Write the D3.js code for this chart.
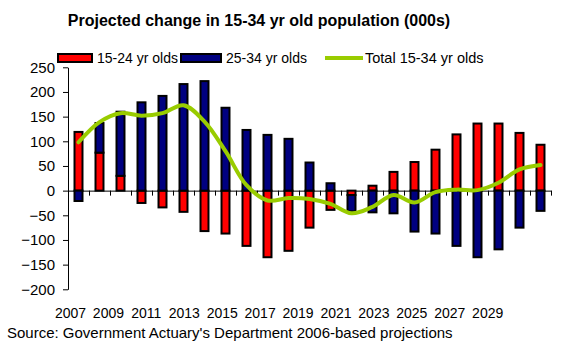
<!DOCTYPE html>
<html>
<head>
<meta charset="utf-8">
<script src="https://cdnjs.cloudflare.com/ajax/libs/d3/7.8.5/d3.min.js"></script>
<style>
  html, body { margin: 0; padding: 0; background: #fff; }
  svg { display: block; font-family: "Liberation Sans", Arial, sans-serif; }
</style>
</head>
<body>
<svg id="chart" width="579" height="351"></svg>
<script>
// ---- data ----
const years = ["2007","2008","2009","2010","2011","2012","2013","2014","2015","2016","2017","2018",
               "2019","2020","2021","2022","2023","2024","2025","2026","2027","2028","2029"];
const age15to24 = [119, 77, 30, -25, -34, -43, -82, -87, -112, -135, -122, -75,
                   -39, -9, 10, 38, 58, 83, 114, 136, 136, 117, 93];
const age25to34 = [-21, 60, 130, 179, 192, 216, 222, 168, 123, 113, 105, 57,
                   15, -33, -44, -46, -83, -87, -112, -135, -119, -75, -41];
const total15to34 = [98, 139, 157, 152, 157, 173, 140, 80, 11, -20, -15, -17,
                     -27, -46, -33, -9, -24, -3, 2, 1, 16, 43, 52];
const yTicks = [-200, -150, -100, -50, 0, 50, 100, 150, 200, 250];
const xLabels = ["2007","2009","2011","2013","2015","2017","2019","2021","2023","2025","2027","2029"];
const seriesNames = ["15-24 yr olds", "25-34 yr olds", "Total 15-34 yr olds"];
const title = "Projected change in 15-34 yr old population (000s)";
const source = "Source: Government Actuary's Department 2006-based projections";

// ---- setup ----
const svg = d3.select("#chart");
const colors = { red: "#FF0000", blue: "#000080", green: "#99CC00" };
const plotLeft = 68, plotRight = 551, plotTop = 67.3, plotBottom = 289.3;

const x = d3.scaleBand().domain(years).range([plotLeft, plotRight]).paddingInner(0.62).paddingOuter(0.31);
const y = d3.scaleLinear().domain([-200, 250]).range([plotBottom, plotTop]);

// title
svg.append("text").attr("x", 259).attr("y", 26).attr("text-anchor", "middle")
  .attr("font-size", 16).attr("font-weight", "bold").text(title);

// legend
const lg = svg.append("g").attr("font-size", 14);
lg.append("rect").attr("x", 58).attr("y", 54).attr("width", 34).attr("height", 8)
  .attr("fill", colors.red).attr("stroke", "#000").attr("stroke-width", 2);
lg.append("text").attr("x", 97).attr("y", 63).text(seriesNames[0]);
lg.append("rect").attr("x", 181).attr("y", 54).attr("width", 40).attr("height", 8)
  .attr("fill", colors.blue).attr("stroke", "#000").attr("stroke-width", 2);
lg.append("text").attr("x", 226).attr("y", 63).text(seriesNames[1]);
lg.append("line").attr("x1", 325).attr("x2", 363).attr("y1", 58).attr("y2", 58)
  .attr("stroke", colors.green).attr("stroke-width", 4);
lg.append("text").attr("x", 365).attr("y", 63).attr("font-size", 14.5).text(seriesNames[2]);

// y axis
const yAxis = svg.append("g").attr("transform", `translate(${plotLeft},0)`)
  .call(d3.axisLeft(y).tickValues(yTicks).tickSize(5).tickSizeOuter(0).tickPadding(8));
yAxis.selectAll("text").attr("font-size", 15).attr("font-family", "Liberation Sans, Arial, sans-serif").attr("fill", "#000");
yAxis.selectAll("path,line").attr("stroke", "#000");

// x axis at zero (category boundary ticks)
const xb = d3.scaleLinear().domain([0, years.length]).range([plotLeft, plotRight]);
const xAxis = svg.append("g").attr("transform", `translate(0,${y(0)})`)
  .call(d3.axisBottom(xb).tickValues(d3.range(years.length + 1)).tickFormat("").tickSize(5).tickSizeOuter(0));
xAxis.selectAll("path,line").attr("stroke", "#000");

// stacked bars
const rows = years.map((yr, i) => ({ year: yr, a: age15to24[i], b: age25to34[i] }));
const stacked = d3.stack().keys(["a", "b"]).offset(d3.stackOffsetDiverging)(rows);
const fills = [colors.red, colors.blue];
stacked.forEach((s, si) => {
  svg.append("g").selectAll("rect").data(s).join("rect")
    .attr("x", d => x(d.data.year))
    .attr("width", x.bandwidth())
    .attr("y", d => y(Math.max(d[0], d[1])))
    .attr("height", d => Math.abs(y(d[0]) - y(d[1])))
    .attr("fill", fills[si])
    .attr("stroke", "#000")
    .attr("stroke-width", 2);
});

// total line
const line = d3.line()
  .x((d, i) => x(years[i]) + x.bandwidth() / 2)
  .y(d => y(d))
  .curve(d3.curveCatmullRom.alpha(0.5));
svg.append("path").datum(total15to34).attr("d", line)
  .attr("fill", "none").attr("stroke", colors.green).attr("stroke-width", 4)
  .attr("stroke-linejoin", "round").attr("stroke-linecap", "round");

// bottom year labels
const xl = d3.scalePoint().domain(xLabels).range([70.5, 487.7]);
svg.append("g").attr("font-size", 14).selectAll("text").data(xLabels).join("text")
  .attr("x", d => xl(d)).attr("y", 317.5).attr("text-anchor", "middle").text(d => d);

// source
svg.append("text").attr("x", 7).attr("y", 337.5).attr("font-size", 15).text(source);
</script>
</body>
</html>
